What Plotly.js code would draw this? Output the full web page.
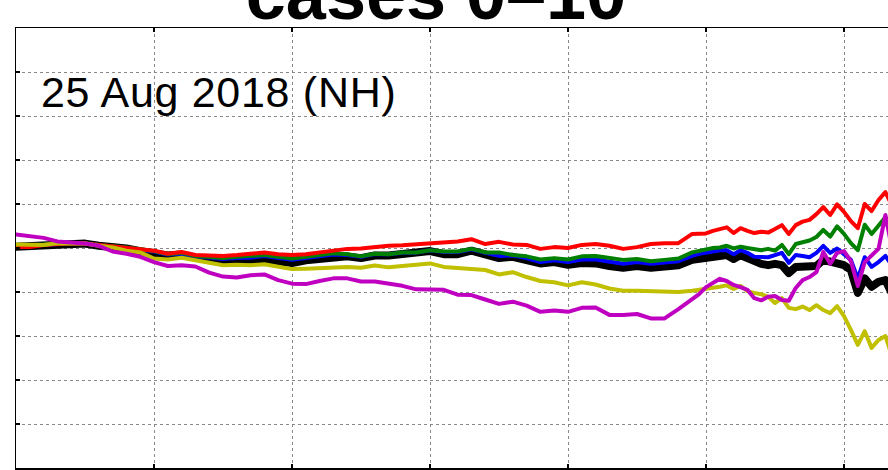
<!DOCTYPE html>
<html>
<head>
<meta charset="utf-8">
<script src="https://cdn.plot.ly/plotly-3.0.1.min.js"></script>
<style>
html, body { margin: 0; padding: 0; overflow: hidden; background: #fff; }
#chart { width: 1000px; height: 470px; }
.js-line { stroke-linejoin: round; stroke-linecap: round; }
.annotation-text { letter-spacing: 0.7px; }
</style>
</head>
<body>
<div id="chart"></div>
<script>
// day index along the season
const days = [0,2,4,6,8,10,12,14,16,18,20,22,24,26,28,30,32,34,36,38,40,42,44,46,48,
  50,52,54,56,58,60,62,64,66,68,70,72,74,76,78,80,82,84,86,88,90,92,94,96,98,
  99,100,101,102,103,104,105,106,107,108,109,110,111,112,113,114,115,116,117,118,119,
  120,121,122,123,124,125,126,127];

const blackVals = [0.3,0.4,0.6,1.0,1.1,1.0,0.5,0.3,-0.1,-0.7,-1.0,-1.7,-1.5,-2.2,-2.4,-3.0,-2.8,-2.7,-2.5,-3.0,
  -3.4,-2.8,-2.4,-2.0,-1.9,-2.3,-1.7,-1.7,-1.5,-1.3,-0.7,-1.4,-1.4,-0.6,-1.4,-2.3,-2.0,-2.6,-3.5,-3.2,
  -3.8,-3.4,-3.5,-4.1,-4.5,-4.1,-4.5,-4.2,-3.9,-2.7,
  -2.4,-2.1,-1.9,-1.7,-1.6,-2.5,-1.6,-2.3,-3.2,-3.6,-3.9,-3.6,-3.9,-5.7,-4.3,-4.3,-4.5,-4.1,-2.7,-3.0,-3.3,
  -3.9,-5.0,-10.2,-6.9,-8.8,-7.7,-7.3,-10.5];

const blueVals = [0.3,0.5,0.7,1.1,1.1,1.0,0.6,0.4,0.0,-0.5,-0.8,-1.5,-1.3,-1.9,-2.2,-2.5,-2.3,-2.2,-1.8,-2.3,
  -2.7,-2.3,-1.8,-1.5,-1.6,-2.0,-1.4,-1.4,-1.1,-1.0,-0.5,-0.9,-0.9,-0.3,-1.1,-1.8,-1.7,-2.3,-3.2,-2.8,
  -3.2,-2.6,-2.6,-3.2,-3.6,-3.2,-3.6,-3.3,-3.0,-1.8,
  -1.3,-1.1,-0.8,-0.5,-0.5,-1.4,-0.5,-1.1,-2.0,-2.1,-2.1,-1.6,-1.1,-3.4,-1.6,-1.8,-2.1,-1.1,0.5,-1.1,-0.1,
  -1.4,-2.7,-7.0,-2.1,-4.3,-3.2,-1.8,-4.1];

const greenVals = [0.5,0.6,0.8,1.1,1.1,1.1,0.7,0.5,0.1,-0.3,-0.7,-1.4,-1.1,-1.8,-2.0,-2.3,-2.0,-1.9,-1.6,-2.0,
  -2.4,-2.0,-1.6,-1.2,-1.4,-1.9,-1.3,-1.4,-1.0,-1.0,-0.5,-0.8,-0.8,-0.2,-1.0,-1.0,-1.6,-1.9,-2.6,-2.3,
  -2.6,-1.9,-1.8,-2.3,-2.7,-2.5,-3.0,-2.7,-2.4,-1.0,
  -0.6,-0.3,0.0,0.1,0.5,-0.1,0.3,0.0,-0.3,-0.5,-0.2,-0.6,0.7,-1.4,0.9,1.4,1.7,2.5,4.1,2.6,4.9,
  3.2,1.1,-0.5,5.3,3.2,5.0,7.0,4.5];

const redVals = [0.2,0.2,0.7,1.0,1.1,1.0,0.7,0.5,0.2,-0.2,-0.6,-1.3,-0.9,-1.6,-1.7,-1.8,-1.6,-1.4,-1.0,-1.4,
  -1.6,-1.4,-1.0,-0.5,-0.2,-0.1,0.3,0.5,0.6,0.8,1.2,1.4,1.5,2.0,0.9,1.4,0.8,0.7,-0.2,0.2,
  0.0,0.7,0.9,0.5,-0.2,0.2,0.9,1.1,1.1,3.2,
  3.2,3.3,3.9,4.3,4.7,3.4,4.5,3.9,3.4,3.7,3.5,4.3,5.2,3.2,5.2,6.0,6.4,7.7,9.3,7.5,9.9,
  8.2,6.1,4.5,10.0,8.4,10.9,12.7,9.5];

const yellowVals = [0.8,0.7,0.7,1.1,1.0,1.0,0.5,0.1,-0.6,-1.0,-2.4,-2.6,-2.2,-2.8,-3.4,-3.9,-3.8,-3.9,-3.7,-4.3,
  -4.8,-4.7,-4.5,-4.3,-4.3,-4.5,-4.0,-4.4,-4.1,-4.0,-3.5,-4.3,-4.5,-4.7,-5.0,-6.0,-5.5,-6.6,-7.5,-7.8,
  -8.5,-7.8,-8.3,-9.2,-9.7,-9.7,-9.8,-9.9,-10.0,-9.7,
  -9.5,-9.4,-9.1,-8.8,-8.5,-9.3,-8.6,-9.8,-10.2,-10.5,-11.1,-12.5,-11.4,-13.6,-13.9,-13.3,-14.1,-13.0,-14.1,-14.8,-13.2,
  -15.5,-18.6,-22.0,-18.9,-22.7,-20.9,-20.0,-24.8];

const magentaVals = [3.1,2.7,2.3,1.5,1.3,1.0,0.5,-0.8,-1.3,-2.0,-3.2,-4.1,-3.9,-4.2,-5.6,-6.5,-6.7,-6.2,-6.0,-7.3,
  -8.1,-8.2,-7.5,-6.9,-6.9,-7.6,-7.6,-8.1,-8.6,-9.4,-9.5,-9.5,-10.6,-10.7,-11.7,-12.7,-12.2,-13.1,-14.5,-14.2,
  -14.5,-13.6,-13.5,-15.2,-15.2,-15.0,-16.0,-16.0,-13.9,-11.7,
  -10.5,-8.9,-8.0,-7.0,-7.5,-8.4,-8.9,-9.5,-11.4,-11.9,-11.1,-10.9,-11.8,-12.0,-9.1,-7.3,-6.6,-5.5,-0.9,-3.6,-1.1,
  -0.7,-3.0,-8.6,-3.2,-1.6,-0.2,7.5,-0.5];

const seriesOrder = [
  {name: 'black',   vals: blackVals,   color: '#000000', width: 8},
  {name: 'blue',    vals: blueVals,    color: '#0000ff', width: 4},
  {name: 'green',   vals: greenVals,   color: '#008000', width: 4},
  {name: 'red',     vals: redVals,     color: '#ff0000', width: 4},
  {name: 'yellow',  vals: yellowVals,  color: '#c0c000', width: 4},
  {name: 'magenta', vals: magentaVals, color: '#c000c0', width: 4}
];

const traces = seriesOrder.map(s => ({
  x: days, y: s.vals, type: 'scatter', mode: 'lines', name: s.name,
  line: {color: s.color, width: s.width}, hoverinfo: 'skip'
}));

const axisCommon = {
  showline: true, mirror: 'ticks', linecolor: '#000', linewidth: 1.5,
  ticks: 'inside', ticklen: 4, tickwidth: 1.5, tickcolor: '#000',
  showticklabels: false, showgrid: true, gridcolor: '#888', griddash: 'dot', gridwidth: 1,
  zeroline: false, fixedrange: true
};

const layout = {
  width: 1000, height: 470,
  margin: {l: 16, r: 18, t: 28, b: 2, pad: 0},
  paper_bgcolor: '#fff', plot_bgcolor: '#fff',
  showlegend: false,
  title: {
    text: 'cases 0–10',
    font: {family: 'Liberation Sans, Arial, sans-serif', size: 72, color: '#000', weight: 'bold'},
    xref: 'container', yref: 'container', x: 0.436, xanchor: 'center',
    y: 1 - 19/470, yanchor: 'bottom', pad: {t: 0, b: 0, l: 0, r: 0}
  },
  xaxis: Object.assign({}, axisCommon, {range: [0, 140], dtick: 20, tick0: 0}),
  yaxis: Object.assign({}, axisCommon, {range: [-50, 50], dtick: 10, tick0: 0}),
  annotations: [{
    text: '25 Aug 2018 (NH)', xref: 'paper', yref: 'paper',
    x: 0.024, y: 0.855, xanchor: 'left', yanchor: 'middle', showarrow: false,
    font: {family: 'Liberation Sans, Arial, sans-serif', size: 43, color: '#000'}
  }]
};

Plotly.newPlot('chart', traces, layout, {staticPlot: true, displayModeBar: false});
</script>
</body>
</html>
